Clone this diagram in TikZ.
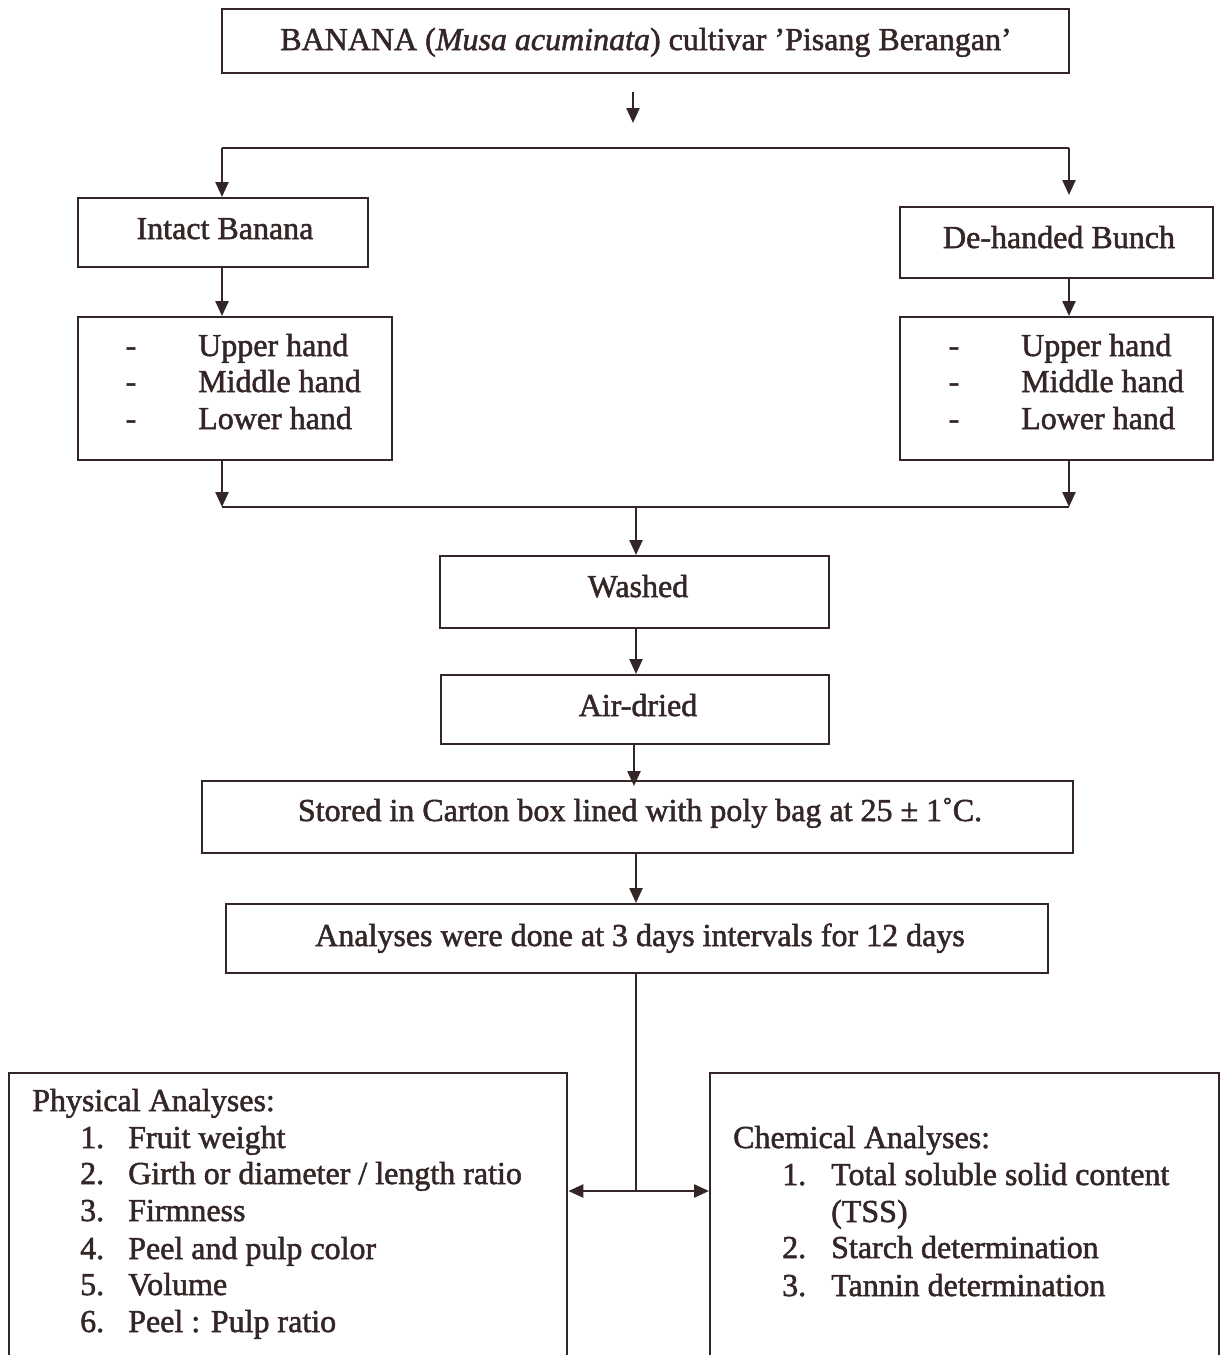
\documentclass[tikz,border=0pt]{standalone}
\usepackage{fontspec}
\setmainfont{Liberation Serif}[FakeBold=1.6]
\usetikzlibrary{arrows.meta}
\definecolor{ink}{RGB}{52,38,38}
\tikzset{
  box/.style={draw=ink, line width=2.4pt, inner sep=0pt, anchor=north west},
  txt/.style={text=ink, inner sep=0pt, text height=21pt, text depth=7pt, font=\fontsize{32}{37}\selectfont},
  link/.style={draw=ink, line width=2.4pt},
  arr/.style={link, -{Triangle[length=15pt,width=13pt]}},
  darr/.style={link, {Triangle[length=15pt,width=13pt]}-{Triangle[length=15pt,width=13pt]}}
}
\begin{document}
\begin{tikzpicture}[x=1pt,y=-1pt]
\clip (0,0) rectangle (1220,1355);
\fill[white] (0,0) rectangle (1220,1355);

% boxes
\node[box, minimum width=847pt, minimum height=64pt] (top) at (221,8) {};
\node[box, minimum width=290pt, minimum height=69pt] (intact) at (77,197) {};
\node[box, minimum width=313pt, minimum height=71pt] (dehand) at (899,206) {};
\node[box, minimum width=314pt, minimum height=143pt] (llist) at (77,316) {};
\node[box, minimum width=313pt, minimum height=143pt] (rlist) at (899,316) {};
\node[box, minimum width=389pt, minimum height=72pt] (washed) at (439,555) {};
\node[box, minimum width=388pt, minimum height=69pt] (airdried) at (440,674) {};
\node[box, minimum width=871pt, minimum height=72pt] (stored) at (201,780) {};
\node[box, minimum width=822pt, minimum height=69pt] (analyses) at (225,903) {};
\node[box, minimum width=558pt, minimum height=330pt] (phys) at (8,1072) {};
\node[box, minimum width=509pt, minimum height=330pt] (chem) at (709,1072) {};

% texts
\node[txt] (ttop) at (646,43) {BANANA (\textit{Musa acuminata}) cultivar ’Pisang Berangan’};
\node[txt] (tintact) at (225,232) {Intact Banana};
\node[txt] (tdehand) at (1059,241) {De-handed Bunch};
\foreach \yy/\tt [count=\i] in {349/Upper hand,385/Middle hand,422/Lower hand}{
  \node[txt, anchor=west] (lt\i) at (198,\yy) {\tt};
  \node[txt] (ld\i) at (131,\yy) {-};
  \node[txt, anchor=west] (rt\i) at (1021,\yy) {\tt};
  \node[txt] (rd\i) at (954,\yy) {-};
}
\node[txt] (twashed) at (638,590) {Washed};
\node[txt] (tair) at (638,709) {Air-dried};
\node[txt] (tstored) at (640,814) {Stored in Carton box lined with poly bag at 25 ± 1˚C.};
\node[txt] (tanal) at (640,939) {Analyses were done at 3 days intervals for 12 days};

\node[txt, anchor=west] (phead) at (32,1104) {Physical Analyses:};
\foreach \yy/\nn/\tt [count=\i] in {1141/1./{Fruit weight},1177/2./{Girth or diameter / length ratio},1214/3./{Firmness},1252/4./{Peel and pulp color},1288/5./{Volume},1325/6./{Peel : Pulp ratio}}{
  \node[txt, anchor=west] (pn\i) at (80,\yy) {\nn};
  \node[txt, anchor=west] (pt\i) at (128,\yy) {\tt};
}
\node[txt, anchor=west] (chead) at (733,1141) {Chemical Analyses:};
\node[txt, anchor=west] (cn1) at (782,1178) {1.};
\node[txt, anchor=west] (ct1) at (831,1178) {Total soluble solid content};
\node[txt, anchor=west] (ct1b) at (831,1215) {(TSS)};
\node[txt, anchor=west] (cn2) at (782,1251) {2.};
\node[txt, anchor=west] (ct2) at (831,1251) {Starch determination};
\node[txt, anchor=west] (cn3) at (782,1289) {3.};
\node[txt, anchor=west] (ct3) at (831,1289) {Tannin determination};

% connector coordinates
\coordinate (a0) at (633,92);
\coordinate (a1) at (633,123);
\coordinate (sl) at (222,148);
\coordinate (sr) at (1069,148);
\coordinate (ml) at (222,507);
\coordinate (mr) at (1069,507);
\coordinate (mc) at (636,507);
\coordinate (tb1) at (623,744);
\coordinate (tb2) at (646,744);
\coordinate (tbc) at (634,744);
\coordinate (jn) at (636,1191);

% connectors
\draw[arr] (a0) -- (a1);
\draw[link] (sl) -- (sr);
\draw[arr] (sl) -- (intact.north -| sl);
\draw[arr] (sr) -- ([yshift=11pt]dehand.north -| sr);
\draw[arr] (intact.south -| sl) -- (llist.north -| sl);
\draw[arr] (dehand.south -| sr) -- (rlist.north -| sr);
\draw[arr] (llist.south -| ml) -- (ml);
\draw[arr] (rlist.south -| mr) -- (mr);
\draw[link] (ml) -- (mr);
\draw[arr] (mc) -- (washed.north -| mc);
\draw[arr] (washed.south -| mc) -- (airdried.north -| mc);
\draw[link] (tb1) -- (tb2);
\draw[arr] (tbc) -- ([yshift=-6pt]stored.north -| tbc);
\draw[arr] (stored.south -| mc) -- (analyses.north -| mc);
\draw[link] (analyses.south -| mc) -- (jn);
\draw[darr] (phys.east |- jn) -- (chem.west |- jn);
\end{tikzpicture}
\end{document}
